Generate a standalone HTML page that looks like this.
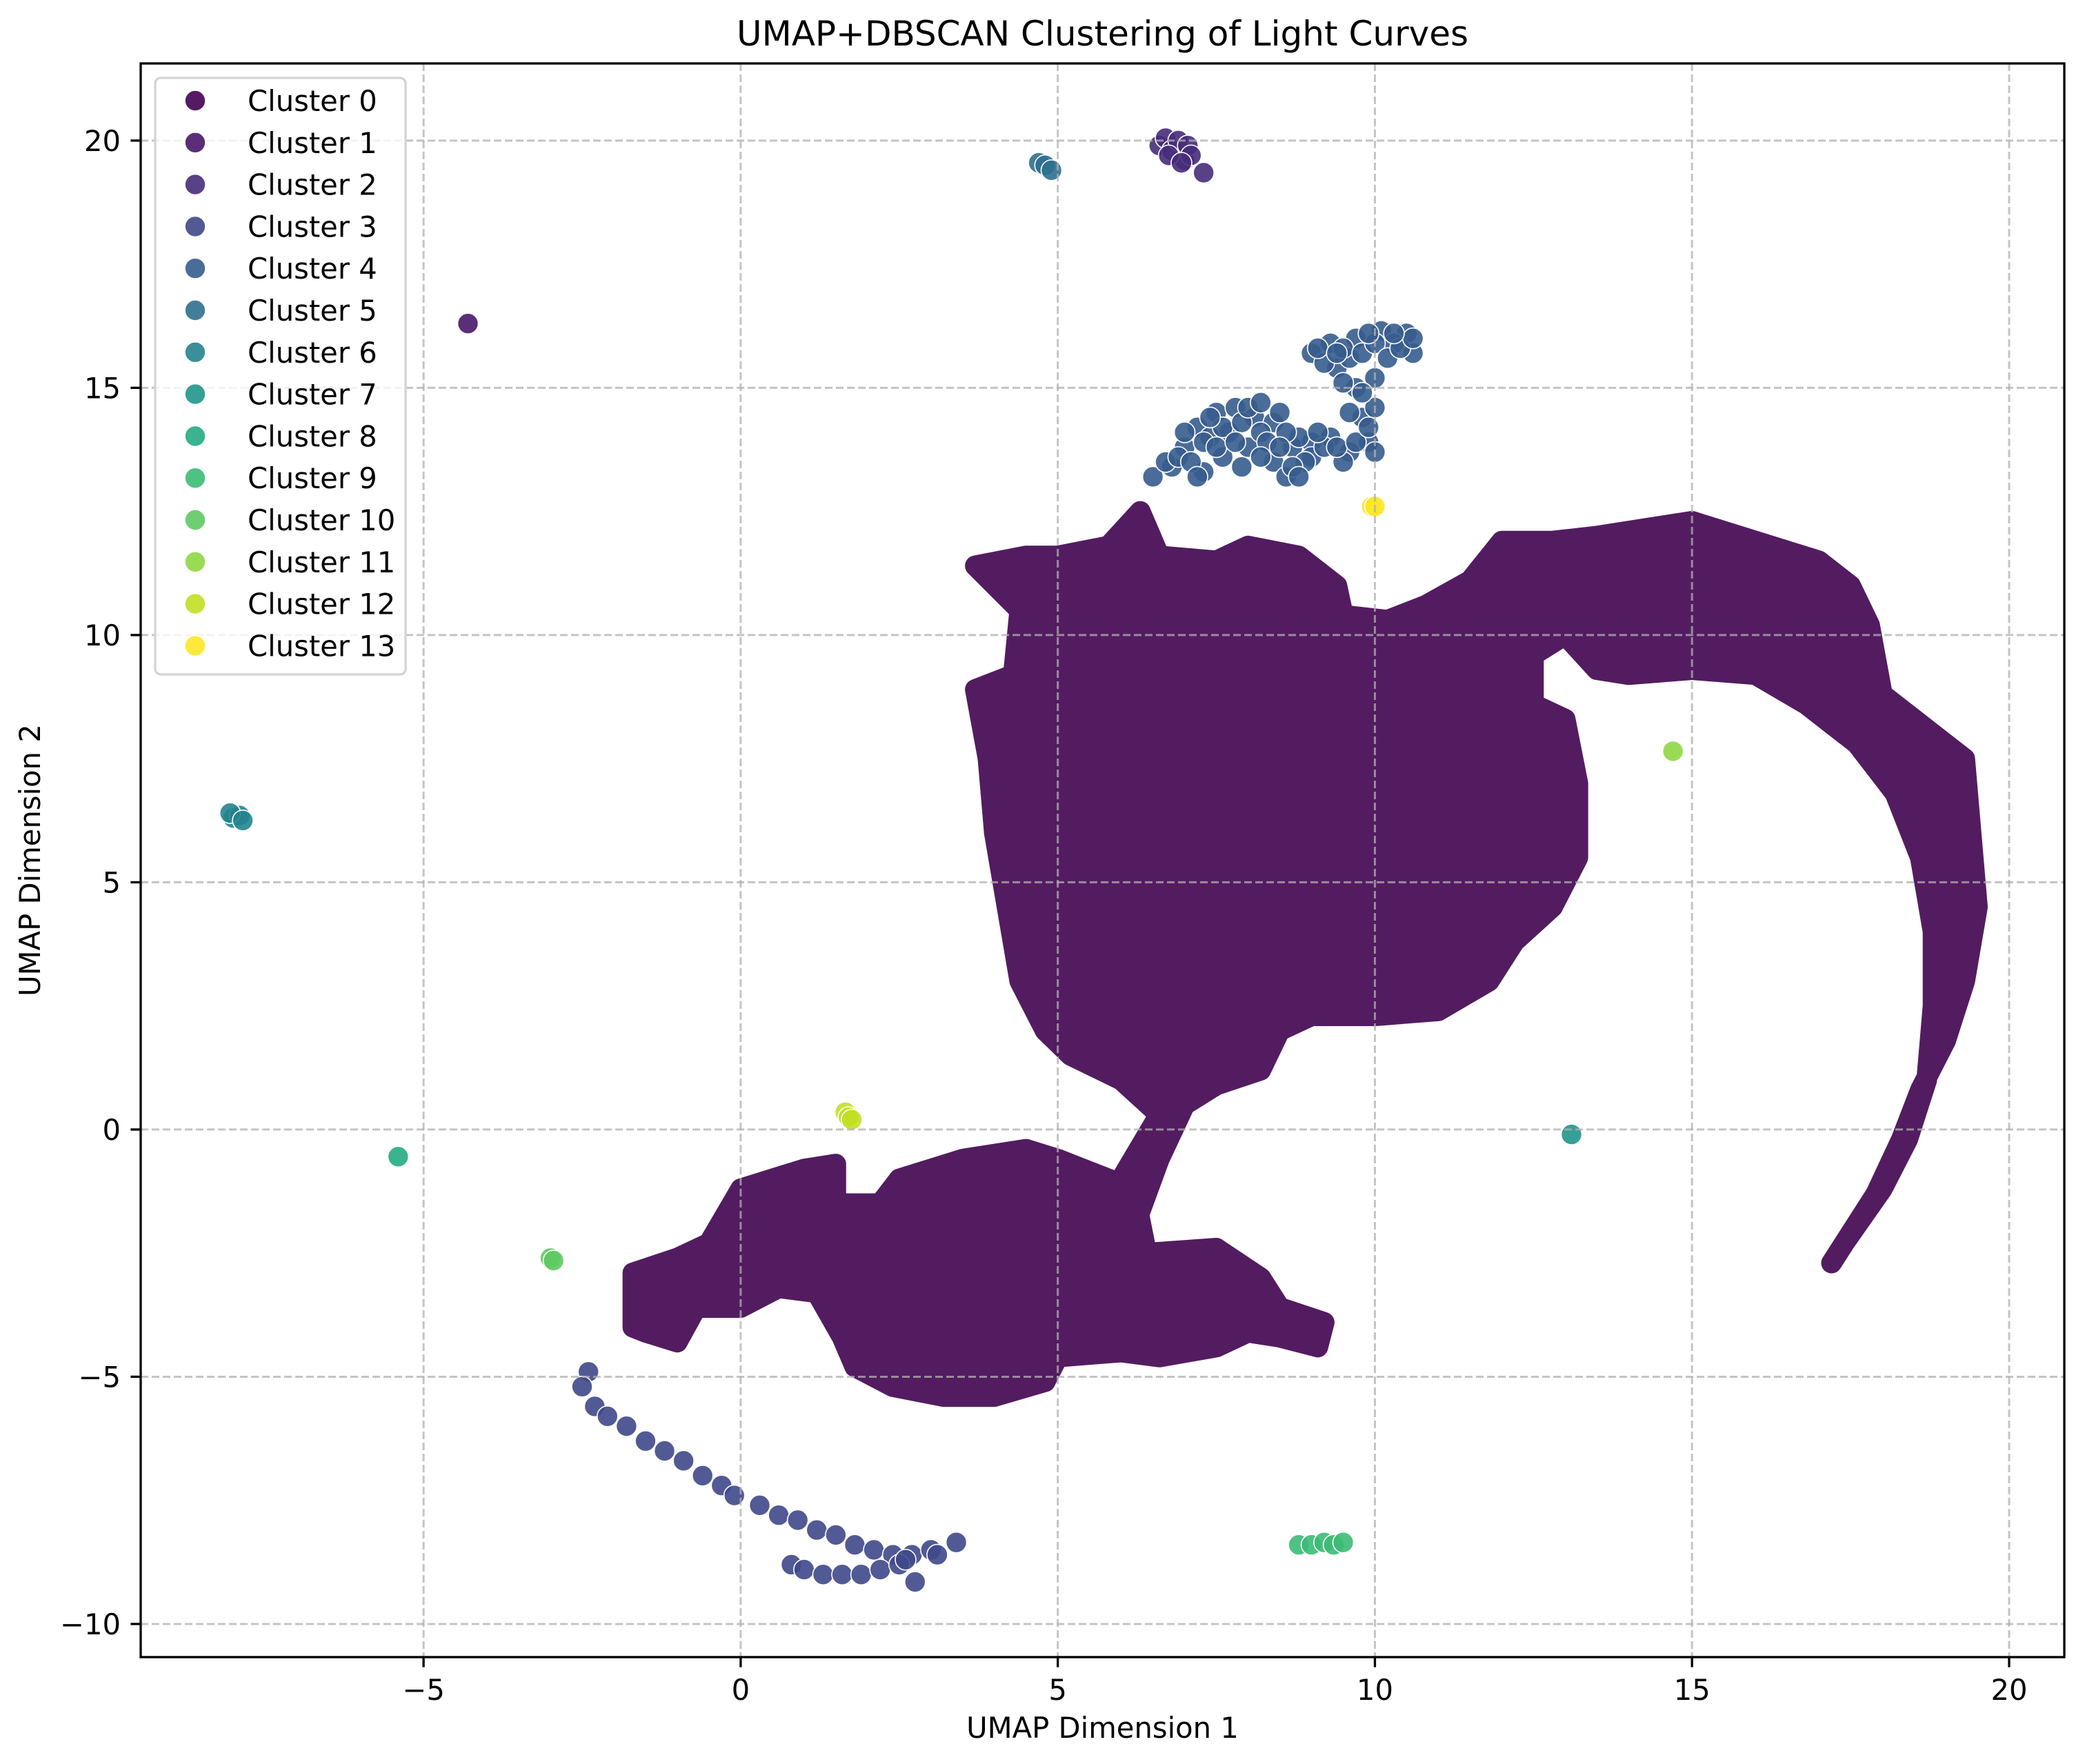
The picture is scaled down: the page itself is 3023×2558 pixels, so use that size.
<!DOCTYPE html>
<html><head><meta charset="utf-8"><style>
html,body{margin:0;padding:0;background:#fff}
svg{display:block;font-family:"DejaVu Sans","Liberation Sans",sans-serif}
</style></head><body>
<svg id="chart" width="3023" height="2558" viewBox="0 0 3023 2558" xmlns="http://www.w3.org/2000/svg">
<rect x="0" y="0" width="3023" height="2558" fill="#fff"/>
<g id="plot"></g>
</svg>
<script>
const xTicks = [-5, 0, 5, 10, 15, 20];
const yTicks = [-10, -5, 0, 5, 10, 15, 20];
const clusterNames = ["Cluster 0","Cluster 1","Cluster 2","Cluster 3","Cluster 4","Cluster 5","Cluster 6","Cluster 7","Cluster 8","Cluster 9","Cluster 10","Cluster 11","Cluster 12","Cluster 13"];
const clusterColors = ["#440154","#481769","#472c7a","#3f4889","#365c8d","#2d708e","#25838e","#1f968b","#25ab82","#3bbb75","#5ec962","#8fd744","#c2df23","#fde725"];
// Cluster 0 dense regions (outline of point cloud)
const cluster0Upper = [[5.6,-2.0],[6.0,-1.0],[6.6,0.3],[6.0,1.0],[5.2,1.5],[4.8,2.0],[4.4,3.0],[4.2,4.5],[4.0,6],[3.9,7.5],[3.7,8.9],[4.3,9.2],[4.4,10.5],[3.7,11.4],[4.5,11.6],[5.0,11.6],[5.8,11.8],[6.3,12.5],[6.6,11.6],[7.5,11.5],[8.0,11.8],[8.8,11.6],[9.4,11.0],[9.5,10.4],[10.2,10.3],[10.8,10.6],[11.5,11.1],[12.0,11.9],[12.8,11.9],[13.5,12.0],[14.5,12.2],[15.0,12.3],[16.0,11.9],[17.0,11.5],[17.5,11.0],[17.8,10.2],[18.0,8.8],[18.8,8.0],[19.3,7.5],[19.4,6.0],[19.5,4.5],[19.3,3.0],[19.0,1.8],[18.6,0.8],[18.3,-0.2],[17.9,-1.3],[17.5,-2.1],[17.2,-2.7],[17.4,-2.3],[18.0,-1.2],[18.4,-0.2],[18.7,1.0],[18.8,2.5],[18.8,4.0],[18.6,5.5],[18.2,6.8],[17.6,7.8],[16.8,8.6],[16.0,9.2],[15.0,9.3],[14.0,9.2],[13.5,9.3],[13.0,10.0],[12.5,9.6],[12.5,8.6],[13.0,8.3],[13.2,7.0],[13.2,5.5],[12.8,4.5],[12.2,3.8],[11.8,3.0],[11.0,2.4],[10.0,2.3],[9.0,2.3],[8.5,2.0],[8.2,1.2],[7.5,0.9],[7.0,0.5],[6.6,-0.6],[6.2,-2.0]];
const cluster0Lower = [[-1.7,-2.9],[-1.0,-2.6],[-0.5,-2.3],[0.0,-1.2],[0.5,-1.0],[1.0,-0.8],[1.5,-0.7],[1.5,-1.5],[2.2,-1.5],[2.5,-1.0],[3.5,-0.6],[4.5,-0.4],[5.0,-0.6],[5.6,-0.9],[6.2,-1.2],[6.4,-2.5],[7.5,-2.4],[8.2,-3.0],[8.5,-3.6],[9.2,-3.9],[9.1,-4.4],[8.5,-4.2],[8.0,-4.1],[7.5,-4.4],[6.6,-4.6],[6.0,-4.5],[5.0,-4.6],[4.8,-5.1],[4.0,-5.4],[3.2,-5.4],[2.4,-5.2],[1.8,-4.8],[1.6,-4.2],[1.2,-3.3],[0.6,-3.2],[0.0,-3.6],[-0.7,-3.6],[-1.0,-4.3],[-1.5,-4.1],[-1.7,-4.0]];
const cluster1Pts = [[-4.3,16.3]];
const cluster2Pts = [[6.6,19.9],[6.7,20.05],[6.8,19.8],[6.9,20.0],[7.0,19.6],[7.05,19.9],[7.1,19.7],[7.3,19.35],[6.75,19.7],[6.95,19.55]];
const cluster3Pts = [[-2.4,-4.9],[-2.5,-5.2],[-2.3,-5.6],[-2.1,-5.8],[-1.8,-6.0],[-1.5,-6.3],[-1.2,-6.5],[-0.9,-6.7],[-0.6,-7.0],[-0.3,-7.2],[-0.1,-7.4],[0.3,-7.6],[0.6,-7.8],[0.9,-7.9],[1.2,-8.1],[1.5,-8.2],[1.8,-8.4],[2.1,-8.5],[2.4,-8.6],[2.7,-8.6],[3.0,-8.5],[3.4,-8.35],[0.8,-8.8],[1.0,-8.9],[1.3,-9.0],[1.6,-9.0],[1.9,-9.0],[2.2,-8.9],[2.5,-8.8],[2.75,-9.15],[2.6,-8.7],[3.1,-8.6]];
const cluster4Pts = [[6.5,13.2],[6.8,13.4],[7,13.8],[7.2,14.2],[7.5,14.5],[7.8,14.6],[8.1,14.4],[8.4,14.3],[7.3,13.3],[7.6,13.6],[8,13.8],[8.4,13.5],[8.6,13.2],[8.7,13.8],[9,13.9],[9.3,14.0],[9.6,13.7],[9.9,13.9],[9.8,14.4],[10,14.6],[9.7,15.0],[9.4,15.4],[9.0,15.7],[9.3,15.9],[9.7,16.0],[10.1,16.15],[10.5,16.1],[10.6,15.7],[10.3,15.9],[9.6,15.6],[7.7,14.1],[8.2,14.1],[9.0,13.6],[9.5,13.5],[7.4,14.0],[8.8,14.0],[10.0,15.2],[7.9,13.4],[8.3,13.9],[9.2,13.8],[6.7,13.5],[6.9,13.6],[7.1,13.5],[7.3,13.9],[7.5,13.8],[7.6,14.2],[7.9,14.3],[8.0,14.6],[8.2,14.7],[8.5,14.5],[8.6,14.1],[8.2,13.6],[7.8,13.9],[7.4,14.4],[7.0,14.1],[8.5,13.8],[8.9,13.5],[9.1,14.1],[9.4,13.8],[9.7,13.9],[10.0,13.7],[9.9,14.2],[9.6,14.5],[9.5,15.1],[9.2,15.5],[9.1,15.8],[9.5,15.8],[9.8,15.7],[10.0,15.9],[10.2,15.6],[10.4,15.8],[10.6,16.0],[10.3,16.1],[9.9,16.1],[9.4,15.7],[9.8,14.9],[8.7,13.4],[8.8,13.2],[7.2,13.2]];
const cluster5Pts = [[4.7,19.55],[4.8,19.5],[4.9,19.4]];
const cluster6Pts = [[-8,6.3],[-7.9,6.35],[-8.05,6.4],[-7.85,6.25]];
const cluster7Pts = [[13.1,-0.1]];
const cluster8Pts = [[-5.4,-0.55]];
const cluster9Pts = [[8.8,-8.4],[9.0,-8.4],[9.2,-8.35],[9.35,-8.4],[9.5,-8.35]];
const cluster10Pts = [[-3,-2.6],[-2.95,-2.65]];
const cluster11Pts = [[14.7,7.65]];
const cluster12Pts = [[1.65,0.35],[1.7,0.25],[1.75,0.2]];
const cluster13Pts = [[9.95,12.6],[10.0,12.6]];

const L=204,R=2993,T=92,B=2403;
const xMin=-9.46,xMax=20.87,yMin=-10.67,yMax=21.56;
const sx=v=>L+(v-xMin)/(xMax-xMin)*(R-L);
const sy=v=>B-(v-yMin)/(yMax-yMin)*(B-T);
const NS="http://www.w3.org/2000/svg";
const svg=document.getElementById('chart');
function mk(tag,attrs,parent){const e=document.createElementNS(NS,tag);for(const k in attrs)e.setAttribute(k,attrs[k]);(parent||svg).appendChild(e);return e;}

[cluster0Upper,cluster0Lower].forEach((poly,i)=>{
  const d=poly.map((p,j)=>(j?'L':'M')+sx(p[0]).toFixed(1)+','+sy(p[1]).toFixed(1)).join(' ')+'Z';
  const p=mk('path',{d:d,fill:'#531c61',stroke:'#531c61','stroke-width':30,'stroke-linejoin':'round'});
  
  
});
const allPts=[null,cluster1Pts,cluster2Pts,cluster3Pts,cluster4Pts,cluster5Pts,cluster6Pts,cluster7Pts,cluster8Pts,cluster9Pts,cluster10Pts,cluster11Pts,cluster12Pts,cluster13Pts];
allPts.forEach((pts,ci)=>{
  if(!pts)return;
  pts.forEach(p=>{
    const c=mk('circle',{cx:sx(p[0]),cy:sy(p[1]),r:15,fill:clusterColors[ci],'fill-opacity':0.9,stroke:'#fff','stroke-width':1.6});
    
    
  });
});
xTicks.forEach(t=>{
  const g=mk('line',{x1:sx(t),x2:sx(t),y1:T,y2:B,stroke:'#b0b0b0','stroke-opacity':0.75,'stroke-width':3,'stroke-dasharray':'11 5'});
  
  
});
yTicks.forEach(t=>{
  const g=mk('line',{x1:L,x2:R,y1:sy(t),y2:sy(t),stroke:'#b0b0b0','stroke-opacity':0.75,'stroke-width':3,'stroke-dasharray':'11 5'});
  
  
});
const sp=mk('rect',{x:L,y:T,width:R-L,height:B-T,fill:'none',stroke:'#000','stroke-width':3.3});


xTicks.forEach(t=>{
  const l=mk('line',{x1:sx(t),x2:sx(t),y1:B,y2:B+14.6,stroke:'#000','stroke-width':3.3});
  
  
  const tx=mk('text',{x:sx(t),y:B+62,'font-size':41.7,'text-anchor':'middle',fill:'#000'});
  tx.textContent=(t<0?'\u2212'+(-t):t);
  
  
});
yTicks.forEach(t=>{
  const l=mk('line',{x1:L-14.6,x2:L,y1:sy(t),y2:sy(t),stroke:'#000','stroke-width':3.3});
  
  
  const tx=mk('text',{x:L-29,y:sy(t)+15,'font-size':41.7,'text-anchor':'end',fill:'#000'});
  tx.textContent=(t<0?'\u2212'+(-t):t);
  
  
});
const ti=mk('text',{x:(L+R)/2,y:66,'font-size':50,'text-anchor':'middle',fill:'#000'});
ti.textContent='UMAP+DBSCAN Clustering of Light Curves';


const xl=mk('text',{x:(L+R)/2,y:2520,'font-size':41.7,'text-anchor':'middle',fill:'#000'});
xl.textContent='UMAP Dimension 1';


const yl=mk('text',{x:0,y:0,'font-size':41.7,'text-anchor':'middle',fill:'#000',transform:'translate(58,'+((T+B)/2)+') rotate(-90)'});
yl.textContent='UMAP Dimension 2';


const lg=mk('g',{});


const lb=mk('rect',{x:225,y:113,width:363,height:865,rx:8,fill:'#fff','fill-opacity':0.8,stroke:'#d4d4d4','stroke-width':3.3},lg);


clusterNames.forEach((n,i)=>{
  const y=146+i*60.8;
  const e=mk('g',{},lg);
  
  
  const c=mk('circle',{cx:283,cy:y,r:15,fill:clusterColors[i],'fill-opacity':0.9,stroke:'#fff','stroke-width':1.6},e);
  
  
  const t=mk('text',{x:359,y:y+15,'font-size':41.7,fill:'#000'},e);
  t.textContent=n;
  
  
});
</script>
</body></html>
